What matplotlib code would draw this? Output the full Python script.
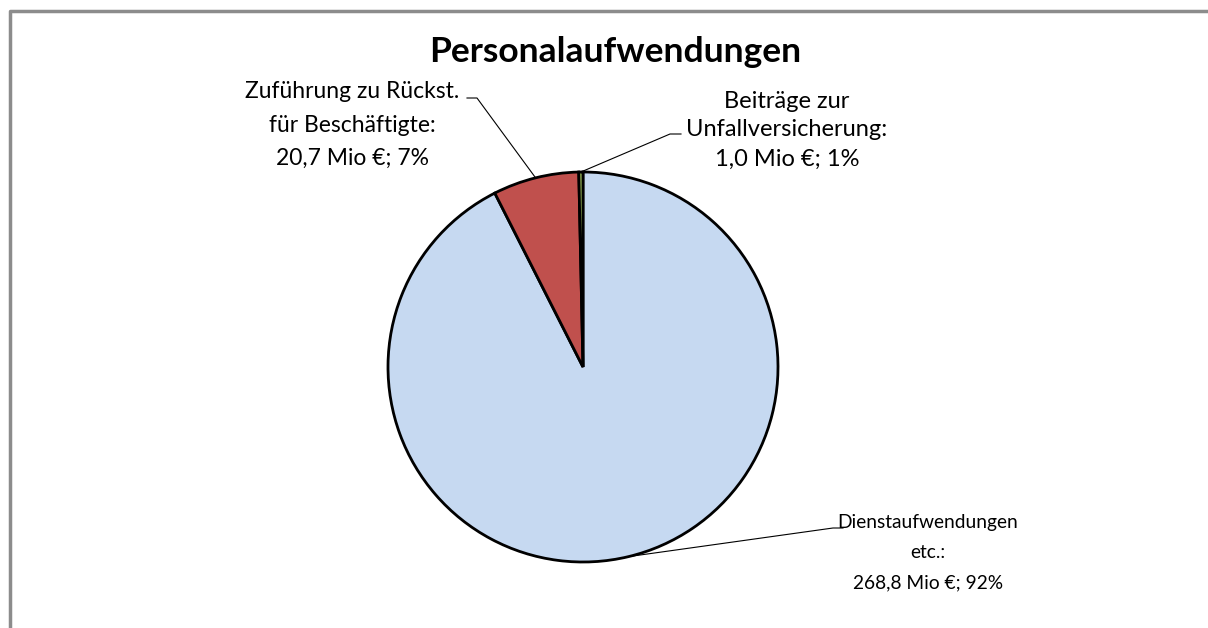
import matplotlib
matplotlib.use("Agg")
import matplotlib.pyplot as plt
import numpy as np

# Data
categories = ["Dienstaufwendungen etc.", "Zuführung zu Rückst. für Beschäftigte", "Beiträge zur Unfallversicherung"]
values = [268.8, 20.7, 1.0]
percents = ["92%", "7%", "1%"]
label_texts = [
    "Dienstaufwendungen\netc.:\n268,8 Mio €; 92%",
    "Zuführung zu Rückst.\nfür Beschäftigte:\n20,7 Mio €; 7%",
    "Beiträge zur\nUnfallversicherung:\n1,0 Mio €; 1%",
]
colors = ["#C6D9F1", "#C0504D", "#9BBB59"]

W, H = 1208, 628
fig = plt.figure(figsize=(W / 100, H / 100), dpi=100)
ax = fig.add_axes([0, 0, 1, 1])

def Y(py):
    return H - py

cx, cy, r = 583, 367, 195
wedges, _ = ax.pie(values, colors=colors, startangle=90, counterclock=False,
                   center=(cx, Y(cy)), radius=r, frame=True,
                   wedgeprops=dict(edgecolor="black", linewidth=2.0))
ax.set_xlim(0, W)
ax.set_ylim(0, H)
ax.set_aspect("equal")
ax.axis("off")

# frame
ax.plot([10, 10, W + 5], [Y(H + 5), Y(11), Y(11)], color="#8c8c8c", lw=2.5, solid_capstyle="butt")

font = ["Lato", "DejaVu Sans"]
ax.text(615, Y(52), "Personalaufwendungen", ha="center", va="center",
        fontsize=25.5, fontweight="bold", family=font)

# label positions (pixel) and leader elbows
text_pos = [(928, 553), (352, 125), (787, 130)]
elbows = [[(843, 528), (833, 528)], [(467, 98), (477, 98)], [(681, 134), (670, 134)]]
sizes = [13.8, 16.5, 17]
spacings = [1.95, 1.75, 1.47]

for w, txt, (tx, ty), elb, fs, ls in zip(wedges, label_texts, text_pos, elbows, sizes, spacings):
    ang = np.deg2rad((w.theta1 + w.theta2) / 2)
    ax_ = cx + r * np.cos(ang)
    ay_ = Y(cy) + r * np.sin(ang)
    xs = [elb[0][0], elb[1][0], ax_]
    ys = [Y(elb[0][1]), Y(elb[1][1]), ay_]
    ax.plot(xs, ys, color="black", lw=0.8)
    ax.text(tx, Y(ty), txt, ha="center", va="center", fontsize=fs,
            family=font, linespacing=ls)

fig.savefig("out.png", dpi=100)
